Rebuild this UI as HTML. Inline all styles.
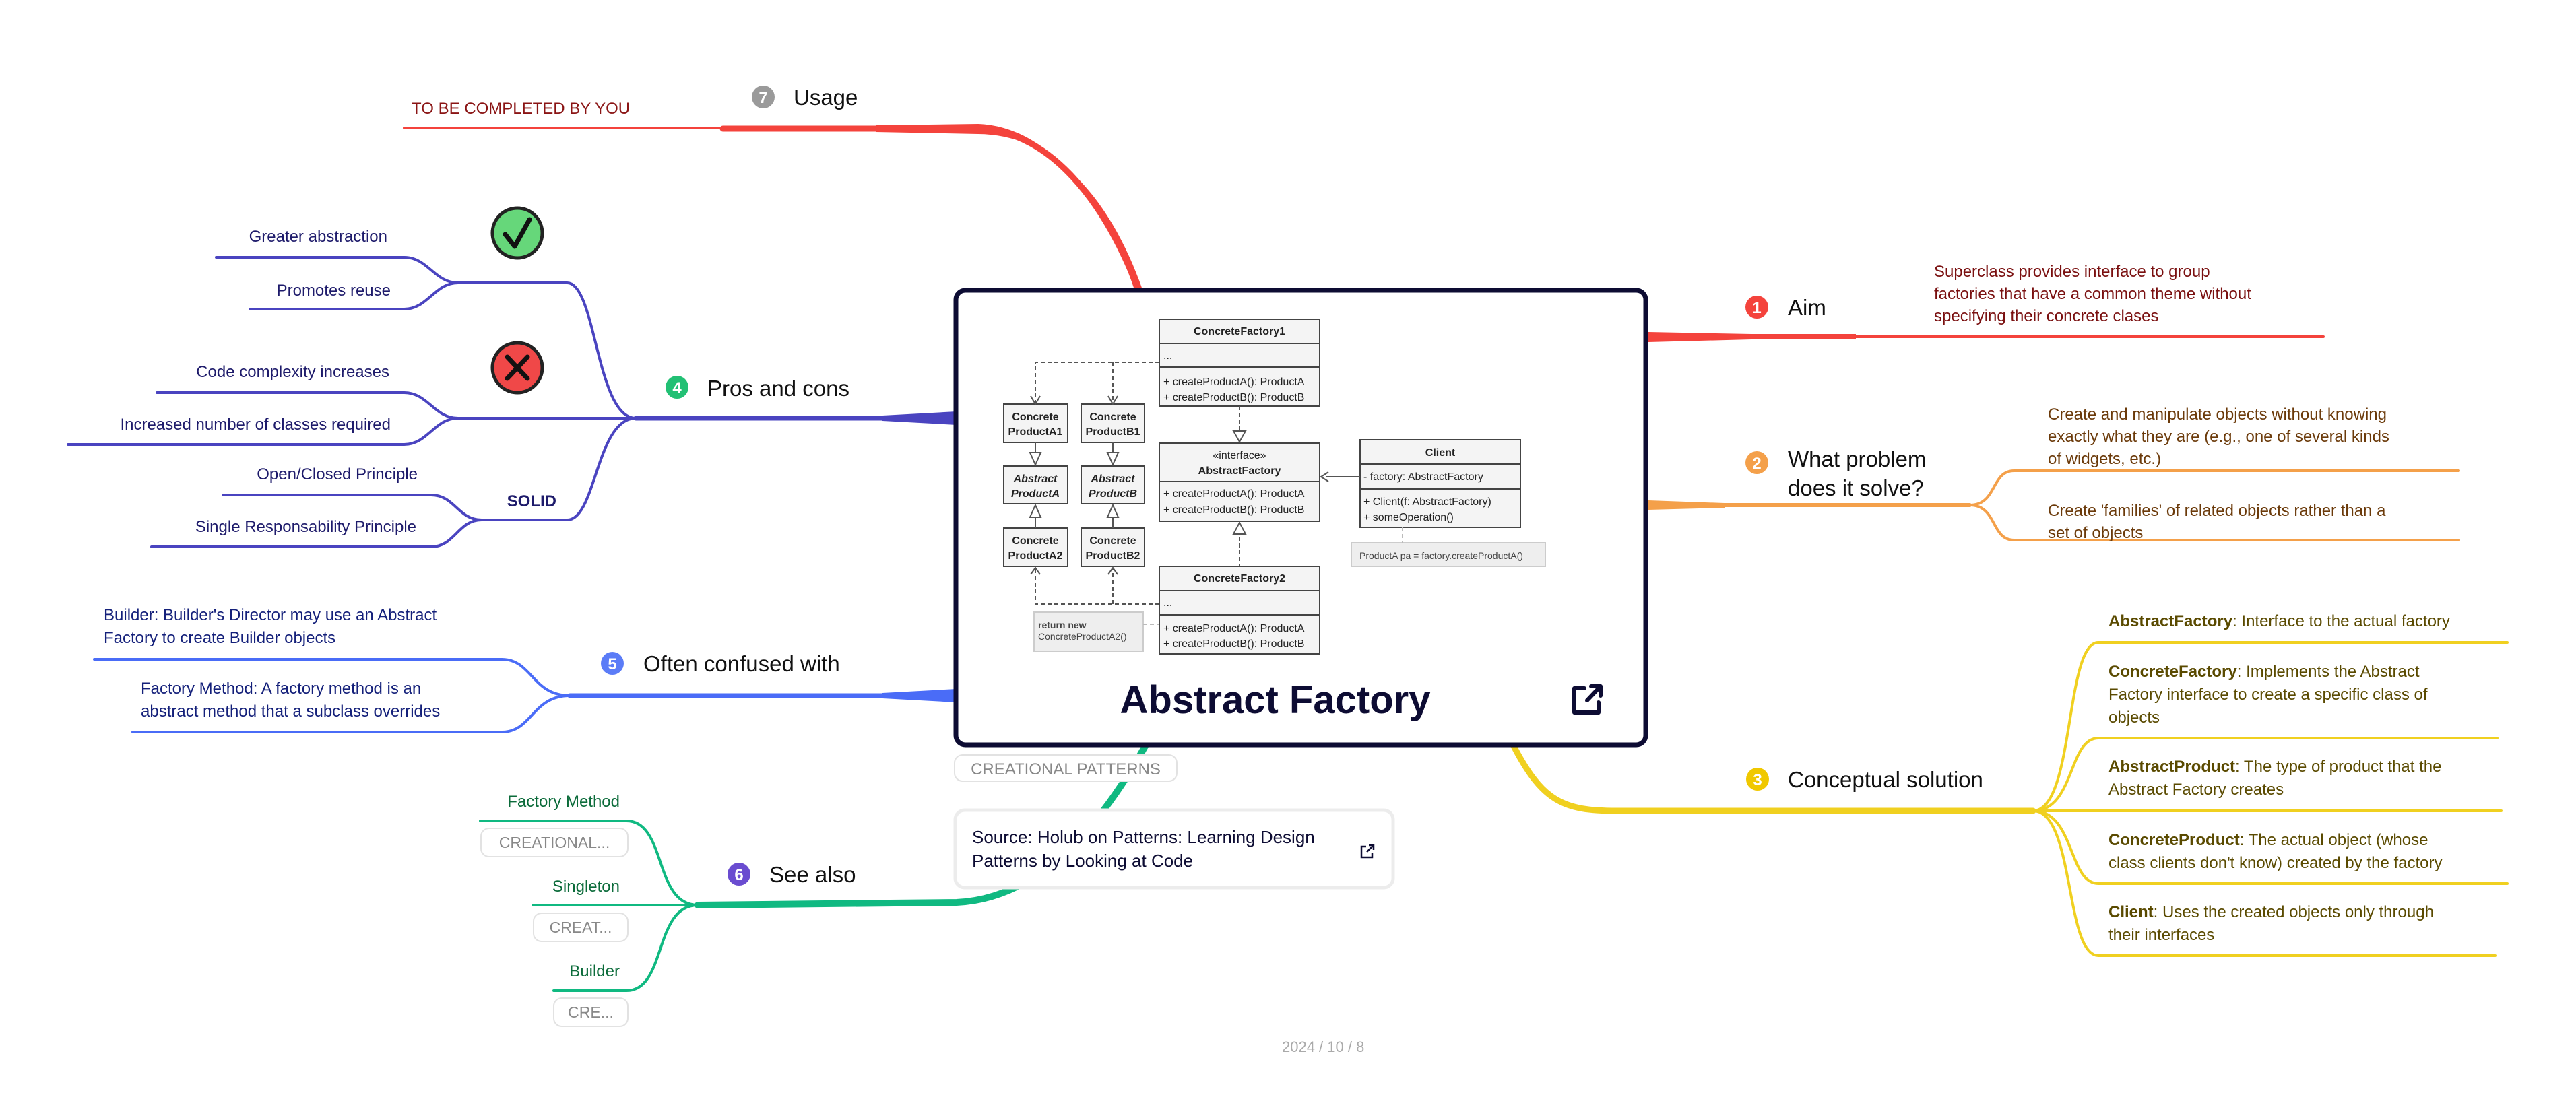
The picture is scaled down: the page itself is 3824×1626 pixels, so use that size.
<!DOCTYPE html>
<html><head><meta charset="utf-8"><style>
html,body{margin:0;padding:0;background:#fff;}
svg{display:block;font-family:"Liberation Sans",sans-serif;}
</style></head><body>
<svg width="3824" height="1626" viewBox="0 0 3824 1626" xmlns="http://www.w3.org/2000/svg">
<g fill="none" stroke-linecap="round">
<!-- Usage red -->
<line x1="600" y1="190" x2="1073" y2="190" stroke="#f4433c" stroke-width="4"/>
<path d="M1073,191 L1452,191 C1560,195 1640,300 1690,430" stroke="#f4433c" stroke-width="9"/>
<path d="M1300,186 L1452,184 C1560,188 1640,300 1684,430 L1696,430 C1650,300 1570,200 1452,199 L1300,196 Z" fill="#f4433c" stroke="none"/>

<!-- Pros and cons indigo -->
<g stroke="#4a44c0">
<path d="M944,621 L1420,621" stroke-width="7"/>
<path d="M321,382 H600 C635,382 645,420 680,420 H842 C885,420 885,621 944,621" stroke-width="4"/>
<path d="M371,459 H600 C635,459 645,420 680,420" stroke-width="4"/>
<path d="M233,583 H600 C635,583 645,621 680,621 H944" stroke-width="4"/>
<path d="M101,660 H600 C635,660 645,621 680,621" stroke-width="4"/>
<path d="M331,735 H640 C675,735 680,772 715,772 H842 C885,772 885,621 944,621" stroke-width="4"/>
<path d="M225,812 H640 C675,812 680,772 715,772" stroke-width="4"/>
</g>
<polygon points="1310,617 1420,611 1420,631 1310,625" fill="#4a44c0" stroke="none"/>

<!-- Often confused with -->
<g stroke="#4a6cf7">
<path d="M846,1033 L1420,1033" stroke-width="7"/>
<path d="M140,979 H745 C790,979 790,1033 846,1033" stroke-width="4"/>
<path d="M197,1087 H745 C790,1087 790,1033 846,1033" stroke-width="4"/>
</g>
<polygon points="1310,1029 1420,1023 1420,1043 1310,1037" fill="#4a6cf7" stroke="none"/>

<!-- See also green -->
<g stroke="#10b981">
<path d="M1036,1344 L1420,1340 C1530,1335 1620,1250 1700,1108" stroke-width="10"/>
<path d="M713,1219 H930 C990,1219 970,1344 1036,1344" stroke-width="4"/>
<path d="M791,1344 H1036" stroke-width="4"/>
<path d="M822,1471 H930 C990,1471 970,1344 1036,1344" stroke-width="4"/>
</g>

<!-- Aim red -->
<line x1="2447" y1="500" x2="3449" y2="500" stroke="#f4433c" stroke-width="4"/>
<polygon points="2447,493 2600,496 2755,496 2755,504 2600,504 2447,508" fill="#f4433c" stroke="none"/>

<!-- What problem orange -->
<g stroke="#f4a04a">
<path d="M2447,750 H2924" stroke-width="6"/>
<path d="M2924,750 C2965,750 2955,699 2990,699 H3650" stroke-width="4"/>
<path d="M2924,750 C2965,750 2955,802 2990,802 H3650" stroke-width="4"/>
</g>
<polygon points="2447,743 2560,747 2560,754 2447,757" fill="#f4a04a" stroke="none"/>

<!-- Conceptual solution yellow -->
<g stroke="#f0d020">
<path d="M2247,1108 C2290,1190 2320,1204 2400,1204 H3018" stroke-width="9"/>
<path d="M3018,1204 C3080,1204 3065,954 3115,954 H3722" stroke-width="4"/>
<path d="M3018,1204 C3080,1204 3070,1096 3115,1096 H3707" stroke-width="4"/>
<path d="M3018,1204 H3713" stroke-width="4"/>
<path d="M3018,1204 C3080,1204 3070,1312 3115,1312 H3722" stroke-width="4"/>
<path d="M3018,1204 C3080,1204 3065,1419 3115,1419 H3704" stroke-width="4"/>
</g>
</g>

<!-- Branch labels -->
<g font-size="33" fill="#111">
<circle cx="1133" cy="144" r="17" fill="#9a9a9a"/><text x="1133" y="153" font-size="24" font-weight="bold" fill="#fff" text-anchor="middle">7</text>
<text x="1178" y="156">Usage</text>
<circle cx="1005" cy="575" r="17" fill="#22c074"/><text x="1005" y="584" font-size="24" font-weight="bold" fill="#fff" text-anchor="middle">4</text>
<text x="1050" y="588">Pros and cons</text>
<circle cx="909" cy="985" r="17" fill="#5b7cf7"/><text x="909" y="994" font-size="24" font-weight="bold" fill="#fff" text-anchor="middle">5</text>
<text x="955" y="997">Often confused with</text>
<circle cx="1097" cy="1298" r="17" fill="#6a4cd0"/><text x="1097" y="1307" font-size="24" font-weight="bold" fill="#fff" text-anchor="middle">6</text>
<text x="1142" y="1310">See also</text>
<circle cx="2608" cy="456" r="17" fill="#f4433c"/><text x="2608" y="465" font-size="24" font-weight="bold" fill="#fff" text-anchor="middle">1</text>
<text x="2654" y="468">Aim</text>
<circle cx="2608" cy="687" r="17" fill="#f4a04a"/><text x="2608" y="696" font-size="24" font-weight="bold" fill="#fff" text-anchor="middle">2</text>
<text x="2654" y="693">What problem</text>
<text x="2654" y="736">does it solve?</text>
<circle cx="2609" cy="1157" r="17" fill="#f0c800"/><text x="2609" y="1166" font-size="24" font-weight="bold" fill="#fff" text-anchor="middle">3</text>
<text x="2654" y="1169">Conceptual solution</text>
</g>

<!-- Leaf texts -->
<text x="611" y="169" font-size="24" fill="#8a1414">TO BE COMPLETED BY YOU</text>
<g font-size="24" fill="#1e1b6b" text-anchor="end">
<text x="575" y="359">Greater abstraction</text>
<text x="580" y="439">Promotes reuse</text>
<text x="578" y="560">Code complexity increases</text>
<text x="580" y="638">Increased number of classes required</text>
<text x="620" y="712">Open/Closed Principle</text>
<text x="618" y="790">Single Responsability Principle</text>
<text x="826" y="752" font-weight="bold" font-size="24">SOLID</text>
</g>
<!-- check / cross icons -->
<circle cx="768" cy="346" r="37" fill="#66d77a" stroke="#222" stroke-width="5"/>
<path d="M750,348 L764,366 L786,326" fill="none" stroke="#111" stroke-width="7" stroke-linecap="round" stroke-linejoin="round"/>
<circle cx="768" cy="546" r="37" fill="#f04848" stroke="#222" stroke-width="5"/>
<path d="M753,530 L783,562 M783,530 L753,562" stroke="#111" stroke-width="7" stroke-linecap="round"/>

<g font-size="24" fill="#14207a">
<text x="154" y="921">Builder: Builder's Director may use an Abstract</text>
<text x="154" y="955">Factory to create Builder objects</text>
<text x="209" y="1030">Factory Method:  A factory method is an</text>
<text x="209" y="1064">abstract method that a subclass overrides</text>
</g>
<g font-size="24" fill="#0b6b3a" text-anchor="end">
<text x="920" y="1198">Factory Method</text>
<text x="920" y="1324">Singleton</text>
<text x="920" y="1450">Builder</text>
</g>
<g fill="#fff" stroke="#e2e2e2" stroke-width="2">
<rect x="714" y="1230" width="218" height="42" rx="12"/>
<rect x="792" y="1356" width="140" height="42" rx="12"/>
<rect x="822" y="1482" width="110" height="42" rx="12"/>
</g>
<g font-size="23" fill="#888" text-anchor="middle">
<text x="823" y="1259">CREATIONAL...</text>
<text x="862" y="1385">CREAT...</text>
<text x="877" y="1511">CRE...</text>
</g>

<g font-size="24" fill="#7a1010">
<text x="2871" y="411">Superclass provides interface to group</text>
<text x="2871" y="444">factories that have a common theme without</text>
<text x="2871" y="477">specifying their concrete clases</text>
</g>
<g font-size="24" fill="#6b3a0a">
<text x="3040" y="623">Create and manipulate objects without knowing</text>
<text x="3040" y="656">exactly what they are (e.g., one of several kinds</text>
<text x="3040" y="689">of widgets, etc.)</text>
<text x="3040" y="766">Create  'families' of related objects rather than a</text>
<text x="3040" y="799">set of objects</text>
</g>
<g font-size="24" fill="#5a4a00">
<text x="3130" y="930"><tspan font-weight="bold">AbstractFactory</tspan>: Interface to the actual factory</text>
<text x="3130" y="1005"><tspan font-weight="bold">ConcreteFactory</tspan>: Implements the Abstract</text>
<text x="3130" y="1039">Factory interface to create a specific class of</text>
<text x="3130" y="1073">objects</text>
<text x="3130" y="1146"><tspan font-weight="bold">AbstractProduct</tspan>: The type of product that the</text>
<text x="3130" y="1180">Abstract Factory creates</text>
<text x="3130" y="1255"><tspan font-weight="bold">ConcreteProduct</tspan>: The actual object (whose</text>
<text x="3130" y="1289">class clients don't know) created by the factory</text>
<text x="3130" y="1362"><tspan font-weight="bold">Client</tspan>: Uses the created objects only through</text>
<text x="3130" y="1396">their interfaces</text>
</g>

<!-- Central box -->
<rect x="1419" y="431" width="1024" height="675" rx="14" fill="#fff" stroke="#0d0c33" stroke-width="7"/>
<!-- UML -->
<g font-size="16" fill="#222">
<g fill="#f4f4f4" stroke="#444" stroke-width="2">
<rect x="1721" y="474" width="238" height="129"/>
<rect x="1721" y="658" width="238" height="116"/>
<rect x="1721" y="841" width="238" height="130"/>
<rect x="2019" y="653" width="238" height="130"/>
<rect x="1490" y="600" width="95" height="57"/><rect x="1605" y="600" width="94" height="57"/>
<rect x="1490" y="692" width="95" height="56"/><rect x="1605" y="692" width="94" height="56"/>
<rect x="1490" y="784" width="95" height="57"/><rect x="1605" y="784" width="94" height="57"/>
</g>
<g stroke="#444" stroke-width="2">
<line x1="1721" y1="510" x2="1959" y2="510"/><line x1="1721" y1="545" x2="1959" y2="545"/>
<line x1="1721" y1="715" x2="1959" y2="715"/>
<line x1="1721" y1="877" x2="1959" y2="877"/><line x1="1721" y1="913" x2="1959" y2="913"/>
<line x1="2019" y1="689" x2="2257" y2="689"/><line x1="2019" y1="726" x2="2257" y2="726"/>
</g>
<rect x="2006" y="806" width="288" height="35" fill="#eee" stroke="#ccc" stroke-width="2"/>
<rect x="1535" y="909" width="162" height="58" fill="#eee" stroke="#ccc" stroke-width="2"/>
<g fill="none" stroke="#555" stroke-width="2" stroke-dasharray="6,4">
<path d="M1721,538 H1537 V598 M1652,538 V598"/>
<path d="M1721,897 H1537 V843 M1652,897 V843"/>
<path d="M1840,603 V656"/><path d="M1840,777 V841"/>
<path d="M2082,783 V806" stroke="#bbb"/><path d="M1697,927 H1721" stroke="#bbb"/>
</g>
<g fill="none" stroke="#555" stroke-width="2">
<path d="M1530,588 L1537,600 L1544,588 M1645,588 L1652,600 L1659,588"/>
<path d="M1530,853 L1537,843 L1544,853 M1645,853 L1652,843 L1659,853"/>
<path d="M1537,657 V672 M1652,657 V672 M1537,768 V784 M1652,768 V784 M2019,708 H1968"/>
<path d="M1972,701 L1961,708 L1972,715"/>
</g>
<g fill="#fff" stroke="#555" stroke-width="2">
<path d="M1529,672 L1545,672 L1537,690 Z M1644,672 L1660,672 L1652,690 Z"/>
<path d="M1529,768 L1545,768 L1537,750 Z M1644,768 L1660,768 L1652,750 Z"/>
<path d="M1831,640 L1849,640 L1840,656 Z"/><path d="M1831,793 L1849,793 L1840,776 Z"/>
</g>
<g font-weight="bold" text-anchor="middle">
<text x="1840" y="497">ConcreteFactory1</text>
<text x="1840" y="704">AbstractFactory</text>
<text x="1840" y="864">ConcreteFactory2</text>
<text x="2138" y="677">Client</text>
<text x="1537" y="624">Concrete</text><text x="1537" y="646">ProductA1</text>
<text x="1652" y="624">Concrete</text><text x="1652" y="646">ProductB1</text>
<text x="1537" y="808">Concrete</text><text x="1537" y="830">ProductA2</text>
<text x="1652" y="808">Concrete</text><text x="1652" y="830">ProductB2</text>
<text x="1537" y="716" font-style="italic">Abstract</text><text x="1537" y="738" font-style="italic">ProductA</text>
<text x="1652" y="716" font-style="italic">Abstract</text><text x="1652" y="738" font-style="italic">ProductB</text>
</g>
<text x="1840" y="681" text-anchor="middle">«interface»</text>
<text x="1727" y="533">...</text>
<text x="1727" y="572">+ createProductA(): ProductA</text>
<text x="1727" y="595">+ createProductB(): ProductB</text>
<text x="1727" y="738">+ createProductA(): ProductA</text>
<text x="1727" y="762">+ createProductB(): ProductB</text>
<text x="1727" y="900">...</text>
<text x="1727" y="938">+ createProductA(): ProductA</text>
<text x="1727" y="961">+ createProductB(): ProductB</text>
<text x="2024" y="713">- factory: AbstractFactory</text>
<text x="2024" y="750">+ Client(f: AbstractFactory)</text>
<text x="2024" y="773">+ someOperation()</text>
<text x="2018" y="830" font-size="14" fill="#444">ProductA pa = factory.createProductA()</text>
<text x="1541" y="933" font-size="14" font-weight="bold" fill="#444">return new</text>
<text x="1541" y="950" font-size="14" fill="#444">ConcreteProductA2()</text>
</g>
<text x="1893" y="1059" font-size="58" font-weight="bold" fill="#0d0c33" text-anchor="middle">Abstract Factory</text>
<g fill="none" stroke="#0d0c33" stroke-width="6" stroke-linecap="round" stroke-linejoin="round">
<path d="M2352,1022 H2337 V1058 H2373 V1043"/><path d="M2356,1040 L2375,1020 M2362,1019 H2376 V1033"/>
</g>

<rect x="1417" y="1121" width="330" height="39" rx="12" fill="#fff" stroke="#e2e2e2" stroke-width="2"/>
<text x="1582" y="1150" font-size="24" fill="#888" text-anchor="middle">CREATIONAL PATTERNS</text>

<rect x="1418" y="1203" width="650" height="115" rx="14" fill="#fff" stroke="#ececec" stroke-width="5"/>
<text x="1443" y="1252" font-size="26" fill="#0d0c33">Source: Holub on Patterns: Learning Design</text>
<text x="1443" y="1287" font-size="26" fill="#0d0c33">Patterns by Looking at Code</text>
<g fill="none" stroke="#0d0c33" stroke-width="2.5"><path d="M2028,1257 H2021 V1273 H2037 V1266"/><path d="M2029,1265 L2039,1255 M2032,1255 H2039 V1262"/></g>

<text x="1903" y="1562" font-size="22" fill="#aaa">2024 / 10 / 8</text>
</svg>
</body></html>
